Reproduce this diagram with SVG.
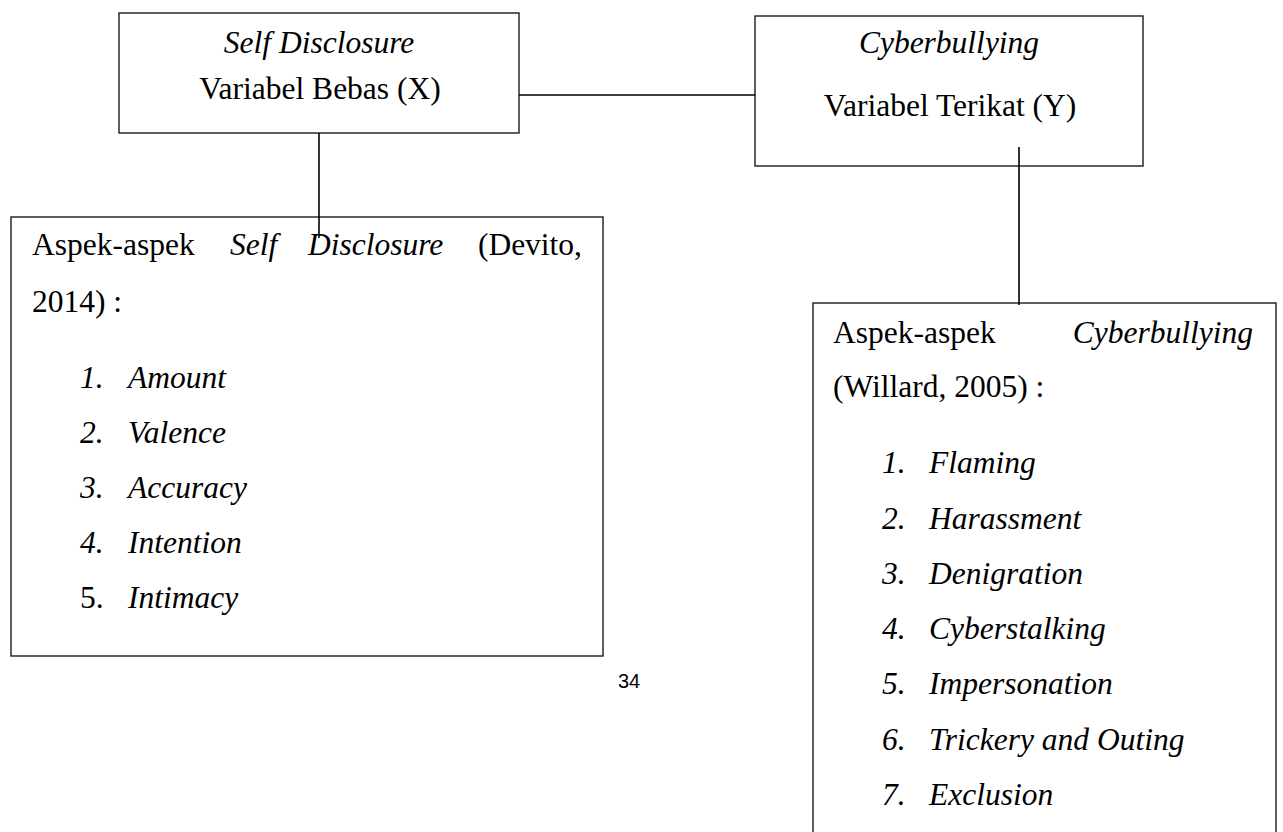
<svg xmlns="http://www.w3.org/2000/svg" width="1283" height="832" viewBox="0 0 1283 832">
  <style>
    .box { fill: #ffffff; stroke: #1a1a1a; stroke-width: 1.4; }
    .conn { stroke: #000000; stroke-width: 1.6; fill: none; }
    text { font-family: "Liberation Serif", "Times New Roman", serif; font-size: 31.5px; fill: #000000; }
    .it { font-style: italic; }
    .mid { text-anchor: middle; }
    .end { text-anchor: end; }
    .page { font-family: "Liberation Sans", Arial, sans-serif; font-size: 20px; }
  </style>
  <rect width="1283" height="832" fill="#ffffff"/>

  <g id="node-x">
    <rect class="box" x="119" y="13" width="400" height="120"/>
    <text class="it mid" x="319" y="53">Self Disclosure</text>
    <text class="mid" x="320" y="99">Variabel Bebas (X)</text>
  </g>

  <g id="node-y">
    <rect class="box" x="755" y="16" width="388" height="150"/>
    <text class="it mid" x="949" y="53">Cyberbullying</text>
    <text class="mid" x="950" y="116">Variabel Terikat (Y)</text>
  </g>

  <g id="node-aspek-x">
    <rect class="box" x="11" y="217" width="592" height="439"/>
    <text x="32" y="255">Aspek-aspek</text>
    <text class="it" x="230" y="255">Self</text>
    <text class="it" x="308" y="255">Disclosure</text>
    <text class="end" x="582" y="255">(Devito,</text>
    <text x="32" y="312">2014) :</text>
    <text class="it" x="80" y="388">1.</text><text class="it" x="128" y="388">Amount</text>
    <text class="it" x="80" y="443">2.</text><text class="it" x="128" y="443">Valence</text>
    <text class="it" x="80" y="498">3.</text><text class="it" x="128" y="498">Accuracy</text>
    <text class="it" x="80" y="553">4.</text><text class="it" x="128" y="553">Intention</text>
    <text x="80" y="608">5.</text><text class="it" x="128" y="608">Intimacy</text>
  </g>

  <g id="node-aspek-y">
    <rect class="box" x="813" y="303" width="463" height="560"/>
    <text x="833" y="343">Aspek-aspek</text>
    <text class="it end" x="1253" y="343">Cyberbullying</text>
    <text x="833" y="397">(Willard, 2005) :</text>
    <text class="it" x="882" y="473">1.</text><text class="it" x="929" y="473">Flaming</text>
    <text class="it" x="882" y="529">2.</text><text class="it" x="929" y="529">Harassment</text>
    <text class="it" x="882" y="584">3.</text><text class="it" x="929" y="584">Denigration</text>
    <text class="it" x="882" y="639">4.</text><text class="it" x="929" y="639">Cyberstalking</text>
    <text class="it" x="882" y="694">5.</text><text class="it" x="929" y="694">Impersonation</text>
    <text class="it" x="882" y="750">6.</text><text class="it" x="929" y="750">Trickery and Outing</text>
    <text class="it" x="882" y="805">7.</text><text class="it" x="929" y="805">Exclusion</text>
  </g>

  <g id="connectors">
    <line class="conn" x1="519" y1="95" x2="755" y2="95"/>
    <line class="conn" x1="319" y1="133" x2="319" y2="238"/>
    <line class="conn" x1="1019" y1="147" x2="1019" y2="305"/>
  </g>

  <text class="page" x="618" y="688">34</text>
</svg>
